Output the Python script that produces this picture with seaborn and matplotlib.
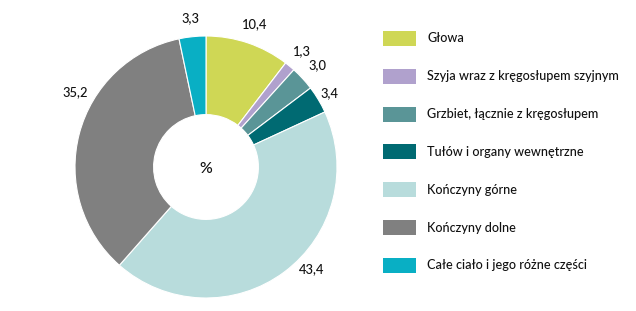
import matplotlib
matplotlib.use("Agg")
import matplotlib.pyplot as plt
import seaborn as sns
import numpy as np

sns.set_theme(style="white")
plt.rcParams['font.family'] = ['Lato', 'DejaVu Sans']

categories = ["Głowa", "Szyja wraz z kręgosłupem szyjnym", "Grzbiet, łącznie z kręgosłupem",
              "Tułów i organy wewnętrzne", "Kończyny górne", "Kończyny dolne",
              "Całe ciało i jego różne części"]
values = [10.4, 1.3, 3.0, 3.4, 43.4, 35.2, 3.3]
value_labels = ["10,4", "1,3", "3,0", "3,4", "43,4", "35,2", "3,3"]
colors = ["#cfd755", "#b0a1cd", "#5a9597", "#006a72", "#b8dcdc", "#808080", "#09afc4"]

W, H = 636, 311
fig = plt.figure(figsize=(W / 100, H / 100), dpi=100)
ax = fig.add_axes([0, 0, 1, 1])

cx, cy, R = 206, H - 167, 131
wedges, _ = ax.pie(values, colors=colors, startangle=90, counterclock=False,
                   center=(cx, cy), radius=R,
                   wedgeprops=dict(width=R * 0.6, edgecolor="white", linewidth=0.8))
ax.set_xlim(0, W)
ax.set_ylim(0, H)
ax.set_aspect('equal')
ax.axis('off')

txt_color = '#111111'
# value labels
angle_override = {4: -44.0, 5: 150.0}
dist = {0: 1.15, 1: 1.15, 2: 1.15, 3: 1.1, 4: 1.12, 5: 1.15, 6: 1.14}
for i, w in enumerate(wedges):
    ang = angle_override.get(i, (w.theta1 + w.theta2) / 2)
    r = R * dist[i]
    x = cx + r * np.cos(np.deg2rad(ang))
    y = cy + r * np.sin(np.deg2rad(ang))
    ax.text(x, y, value_labels[i], ha='center', va='center', fontsize=9.3,
            color=txt_color, fontweight='medium')

ax.text(cx, cy - 2, "%", ha='center', va='center', fontsize=11.5, color=txt_color,
        fontweight='medium')

# legend
for i, (lab, col) in enumerate(zip(categories, colors)):
    yc = H - (38.5 + i * 37.8)
    ax.add_patch(plt.Rectangle((383, yc - 7.5), 33, 15, color=col, lw=0))
    ax.text(427, yc, lab, ha='left', va='center', fontsize=9.1, color=txt_color,
            fontweight='medium')

fig.savefig("out.png", dpi=100)
